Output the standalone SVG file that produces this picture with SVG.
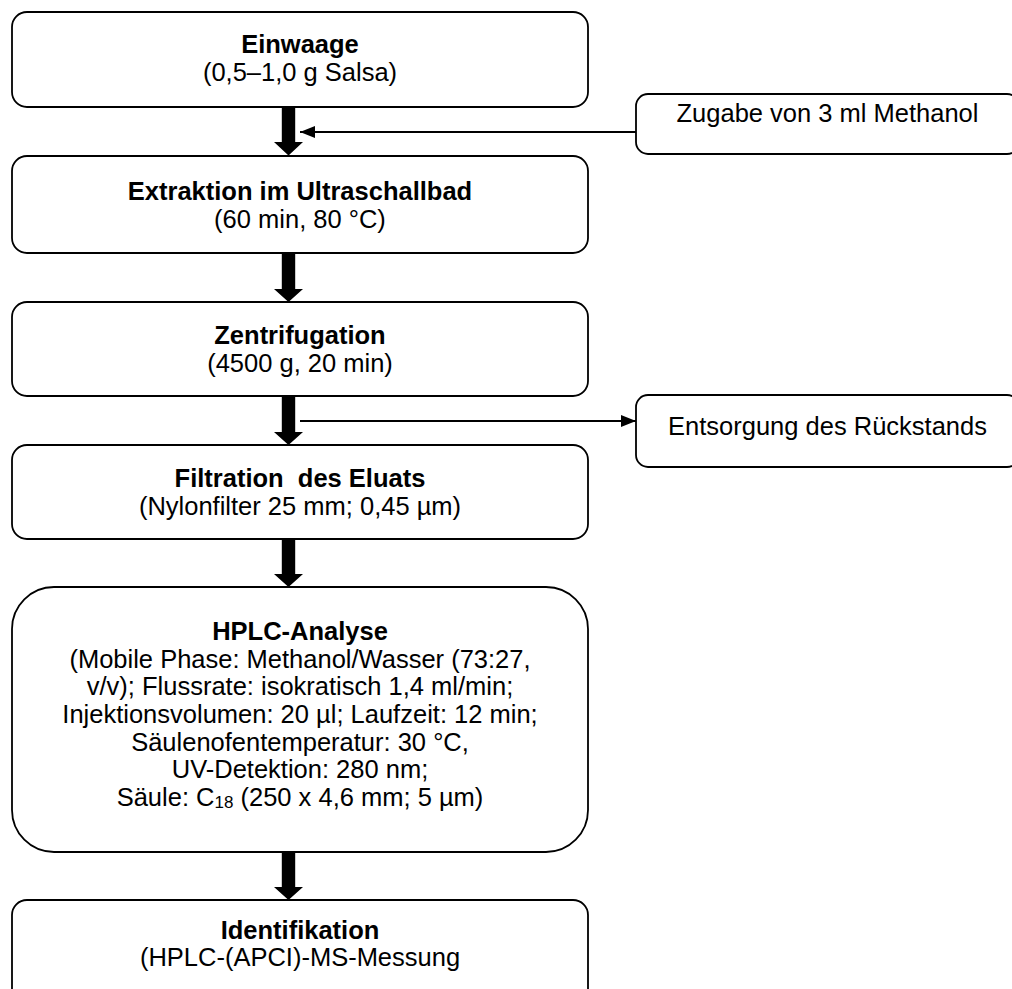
<svg xmlns="http://www.w3.org/2000/svg" width="1012" height="989" viewBox="0 0 1012 989">
<defs>
<style>
.box{fill:#fff;stroke:#000;stroke-width:1.8}
.t{font-family:"Liberation Sans",Arial,sans-serif;font-size:25.5px;fill:#000;text-anchor:middle}
.b{font-weight:bold}
.thin{stroke:#000;stroke-width:2;fill:none}
.thick{fill:#000}
</style>
<marker id="ah" markerUnits="userSpaceOnUse" markerWidth="16" markerHeight="14" refX="15" refY="7" orient="auto">
<path d="M0,1 L15,7 L0,13 Z" fill="#000"/>
</marker>
</defs>
<rect width="1012" height="989" fill="#fff"/>

<g id="einwaage">
<rect class="box" x="12" y="12" width="576" height="95" rx="15"/>
<text class="t b" x="300" y="53">Einwaage</text>
<text class="t" x="300" y="81">(0,5–1,0 g Salsa)</text>
</g>

<g id="zugabe">
<rect class="box" x="636" y="94" width="383" height="60" rx="12"/>
<text class="t" x="827.5" y="122">Zugabe von 3 ml Methanol</text>
</g>

<g id="extraktion">
<rect class="box" x="12" y="156" width="576" height="97" rx="15"/>
<text class="t b" x="300" y="200">Extraktion im Ultraschallbad</text>
<text class="t" x="300" y="228">(60 min, 80 °C)</text>
</g>

<g id="zentrifugation">
<rect class="box" x="12" y="302" width="576" height="94" rx="15"/>
<text class="t b" x="300" y="344">Zentrifugation</text>
<text class="t" x="300" y="372">(4500 g, 20 min)</text>
</g>

<g id="entsorgung">
<rect class="box" x="636" y="395" width="383" height="72" rx="12"/>
<text class="t" x="827.5" y="435">Entsorgung des Rückstands</text>
</g>

<g id="filtration">
<rect class="box" x="12" y="445" width="576" height="94" rx="15"/>
<text class="t b" x="300" y="487" xml:space="preserve">Filtration  des Eluats</text>
<text class="t" x="300" y="515">(Nylonfilter 25 mm; 0,45 µm)</text>
</g>

<g id="hplc">
<rect class="box" x="12" y="587" width="576" height="265" rx="42"/>
<text class="t b" x="300" y="640">HPLC-Analyse</text>
<text class="t" x="300" y="668">(Mobile Phase: Methanol/Wasser (73:27,</text>
<text class="t" x="300" y="695">v/v); Flussrate: isokratisch 1,4 ml/min;</text>
<text class="t" x="300" y="723">Injektionsvolumen: 20 µl; Laufzeit: 12 min;</text>
<text class="t" x="300" y="751">Säulenofentemperatur: 30 °C,</text>
<text class="t" x="300" y="778">UV-Detektion: 280 nm;</text>
<text class="t" x="300" y="806">Säule: C<tspan font-size="17" dy="2">18</tspan><tspan dy="-2"> (250 x 4,6 mm; 5 µm)</tspan></text>
</g>

<g id="identifikation">
<rect class="box" x="12" y="900" width="576" height="110" rx="15"/>
<text class="t b" x="300" y="939">Identifikation</text>
<text class="t" x="300" y="966">(HPLC-(APCI)-MS-Messung</text>
</g>

<g id="connectors">
<path class="thick" d="M281.8,107 H295.2 V142 H303 L288.5,155.5 L274,142 H281.8 Z"/>
<path class="thick" d="M281.8,253 H295.2 V289 H303 L288.5,302 L274,289 H281.8 Z"/>
<path class="thick" d="M281.8,396 H295.2 V432 H303 L288.5,445 L274,432 H281.8 Z"/>
<path class="thick" d="M281.8,539 H295.2 V574 H303 L288.5,587 L274,574 H281.8 Z"/>
<path class="thick" d="M281.8,852 H295.2 V887 H303 L288.5,900 L274,887 H281.8 Z"/>
<line class="thin" x1="636" y1="132" x2="300" y2="132" marker-end="url(#ah)"/>
<line class="thin" x1="300" y1="421" x2="636" y2="421" marker-end="url(#ah)"/>
</g>
</svg>
